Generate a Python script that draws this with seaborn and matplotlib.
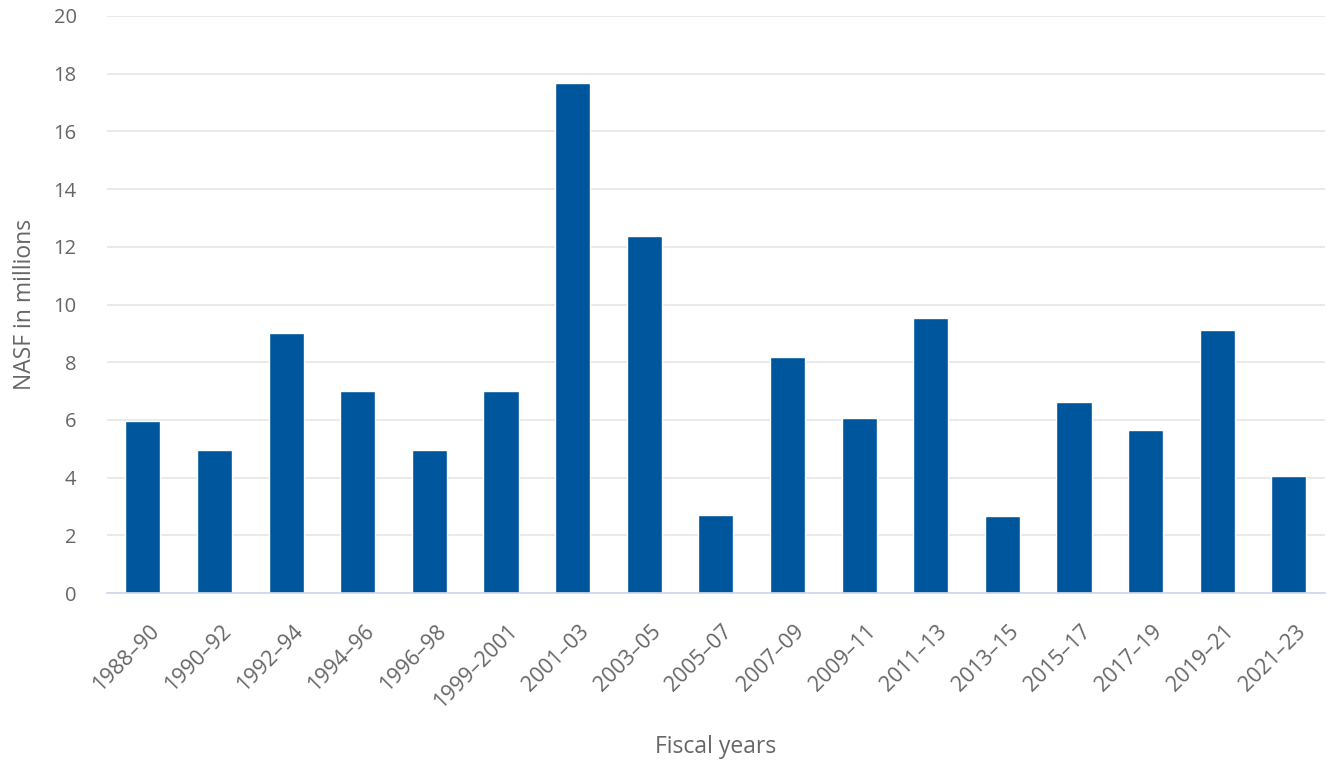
import pandas as pd
import matplotlib.pyplot as plt
import matplotlib.transforms as mtrans
import seaborn as sns

# Données
periods = ["1988–90", "1990–92", "1992–94", "1994–96", "1996–98", "1999–2001",
           "2001–03", "2003–05", "2005–07", "2007–09", "2009–11", "2011–13",
           "2013–15", "2015–17", "2017–19", "2019–21", "2021–23"]
nasf = [5.95, 4.96, 9.0, 7.0, 4.96, 7.0, 17.68, 12.37, 2.72, 8.17, 6.08,
        9.54, 2.66, 6.62, 5.64, 9.12, 4.04]
y_ticks = [0, 2, 4, 6, 8, 10, 12, 14, 16, 18, 20]

df = pd.DataFrame({"period": periods, "nasf": nasf})

sns.set_style("white")
plt.rcParams["font.family"] = ["Open Sans", "DejaVu Sans"]

fig = plt.figure(figsize=(13.3, 7.65), dpi=100)
ax = fig.add_axes([0.0805, 0.2248, 0.9155, 0.7543])

sns.barplot(data=df, x="period", y="nasf", color="#00569c", saturation=1,
            width=0.49, edgecolor="white", linewidth=1, ax=ax, zorder=3)

ax.set_ylim(0, 20)
ax.set_xlim(-0.5, len(periods) - 0.5)
ax.set_yticks(y_ticks)
ax.yaxis.grid(True, color="#e6e6e6", linewidth=1.2, zorder=0)
ax.set_axisbelow(True)

for s in ["top", "right", "left"]:
    ax.spines[s].set_visible(False)
ax.spines["bottom"].set_color("#ccd6eb")
ax.spines["bottom"].set_linewidth(1.2)
ax.spines["bottom"].set_zorder(4)

ax.tick_params(axis="y", length=0, pad=22, labelsize=14.5, labelcolor="#666666")
ax.tick_params(axis="x", length=10, width=1.2, color="#ccd6eb", pad=10,
               labelsize=15.5, labelcolor="#666666")
shift = mtrans.ScaledTranslation(6 / 100, 0, fig.dpi_scale_trans)
for lab in ax.get_xticklabels():
    lab.set_rotation(45)
    lab.set_horizontalalignment("right")
    lab.set_rotation_mode("anchor")
    lab.set_transform(lab.get_transform() + shift)

ax.set_xlabel("Fiscal years", fontsize=16.5, color="#666666", labelpad=16)
ax.set_ylabel("NASF in millions", fontsize=16.5, color="#666666", labelpad=12)

fig.savefig("out.png", dpi=100)
